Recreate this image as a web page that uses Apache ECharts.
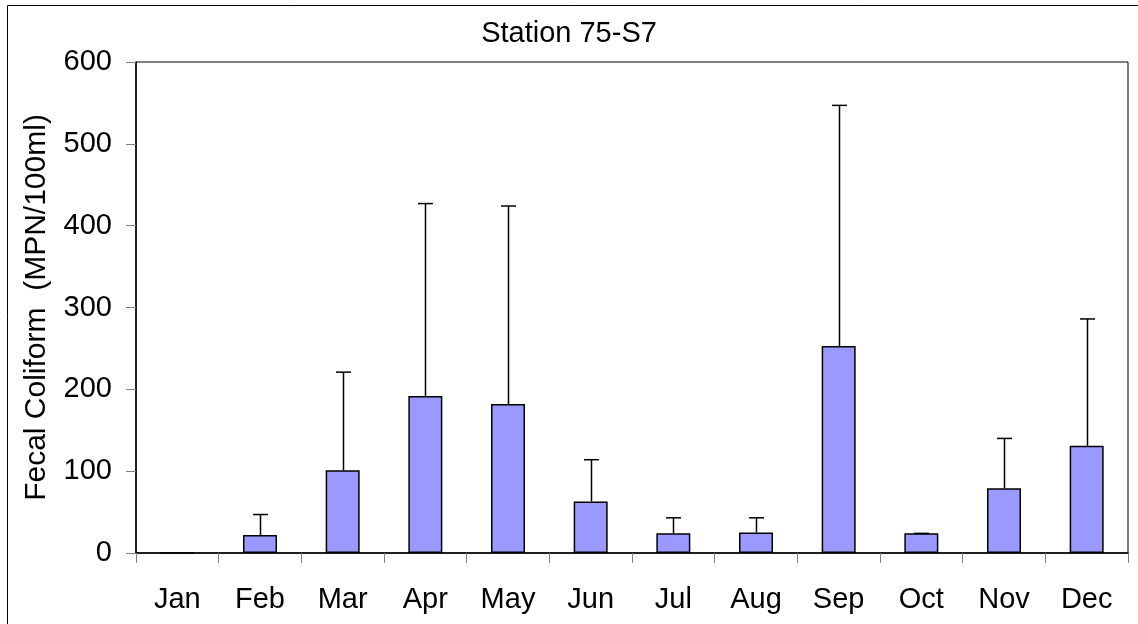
<!DOCTYPE html>
<html>
<head>
<meta charset="utf-8">
<script src="https://cdn.jsdelivr.net/npm/echarts@6/dist/echarts.min.js"></script>
<style>
  html, body { margin: 0; padding: 0; background: #fff; }
  #chart { width: 1138px; height: 624px; }
</style>
</head>
<body>
<div id="chart"></div>
<script>
const months = ['Jan', 'Feb', 'Mar', 'Apr', 'May', 'Jun', 'Jul', 'Aug', 'Sep', 'Oct', 'Nov', 'Dec'];
const meanValues = [0, 22, 101, 192, 182, 63, 24, 25, 253, 24, 79, 131];
const errorPlus = [null, 25, 120, 235, 242, 51, 19, 18, 294, 0, 61, 155];
const yTicks = [0, 100, 200, 300, 400, 500, 600];

const FONT = '"Liberation Sans", Arial, sans-serif';
const chart = echarts.init(document.getElementById('chart'), null, { renderer: 'canvas' });

const errorData = months.map((m, i) => errorPlus[i] == null ? null : [i, meanValues[i], meanValues[i] + errorPlus[i]]).filter(d => d);

chart.setOption({
  animation: false,
  backgroundColor: '#ffffff',
  graphic: [{
    type: 'rect',
    shape: { x: 7.5, y: 5.5, width: 1200, height: 700 },
    style: { fill: 'none', stroke: '#000', lineWidth: 1 },
    z: -1
  }],
  title: {
    text: 'Station 75-S7',
    left: 'center',
    top: 14,
    textStyle: { fontFamily: FONT, fontSize: 29, fontWeight: 'normal', color: '#000' }
  },
  grid: {
    left: 136, right: 10, top: 62, bottom: 71,
    show: true, borderColor: '#000', borderWidth: 1, backgroundColor: 'transparent'
  },
  xAxis: {
    type: 'category',
    data: months,
    boundaryGap: true,
    axisLine: { lineStyle: { color: '#000', width: 1.5 } },
    axisTick: { show: true, length: 10, alignWithLabel: false, lineStyle: { color: '#808080', width: 1 } },
    axisLabel: { fontFamily: FONT, fontSize: 29, color: '#000', margin: 32, interval: 0 }
  },
  yAxis: {
    type: 'value',
    min: yTicks[0],
    max: yTicks[yTicks.length - 1],
    interval: yTicks[1] - yTicks[0],
    name: 'Fecal Coliform  (MPN/100ml)',
    nameLocation: 'middle',
    nameGap: 84,
    nameTextStyle: { fontFamily: FONT, fontSize: 30, color: '#000' },
    splitLine: { show: false },
    axisLine: { show: true, lineStyle: { color: '#000', width: 1.5 } },
    axisTick: { show: true, length: 10, lineStyle: { color: '#808080', width: 1 } },
    axisLabel: { fontFamily: FONT, fontSize: 29, color: '#000', margin: 24 }
  },
  series: [{
    type: 'bar',
    data: meanValues,
    barWidth: 34,
    itemStyle: { color: '#9999FF', borderColor: '#000', borderWidth: 1.5 },
    z: 2
  }, {
    type: 'custom',
    data: errorData,
    z: 3,
    renderItem: function (params, api) {
      const x = api.value(0);
      const lo = api.coord([x, api.value(1)]);
      const hi = api.coord([x, api.value(2)]);
      const cx = Math.round(lo[0]) + 0.5;
      const capHalf = 7.5;
      return {
        type: 'group',
        children: [{
          type: 'line',
          shape: { x1: cx, y1: lo[1], x2: cx, y2: hi[1] },
          style: { stroke: '#000', lineWidth: 1.5 }
        }, {
          type: 'line',
          shape: { x1: cx - capHalf, y1: hi[1], x2: cx + capHalf, y2: hi[1] },
          style: { stroke: '#000', lineWidth: 1.5 }
        }]
      };
    }
  }]
});
</script>
</body>
</html>
